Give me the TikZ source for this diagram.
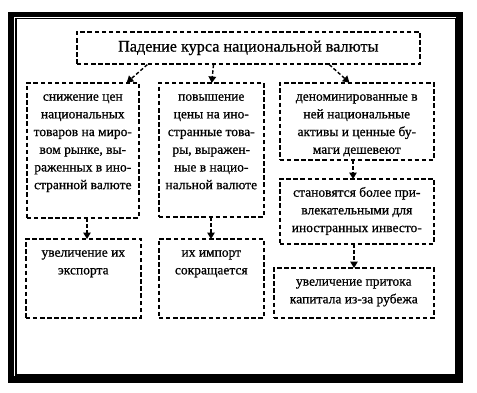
\documentclass[tikz,border=0pt]{standalone}
\usepackage{fontspec}
\setmainfont[FakeBold=0.7]{Liberation Serif}
\usetikzlibrary{arrows.meta,calc}
\newcommand\bxt[3]{\parbox[c][#2][t]{#1}{\centering\fontsize{13.5pt}{17.7pt}\selectfont\vspace*{5.5pt}\strut #3\par}}
\tikzset{
  dbox/.style={draw, line width=1.6pt, dash pattern=on 4.5pt off 2.6pt, inner sep=0pt, anchor=north west},
  arr/.style={line width=1.4pt, dash pattern=on 3.5pt off 2.2pt, -{Triangle[length=6.5pt,width=7.5pt]}, shorten >=-1pt}
}
\begin{document}
\begin{tikzpicture}[x=1pt,y=-1pt]
\useasboundingbox (0,0) rectangle (477,392);
% frame
\fill[black] (8,12) rectangle (463,383);
\fill[white] (13.5,16.5) rectangle (456,375.5);
\draw[line width=1.3pt] (16,18.5) rectangle (455.5,375);
% title
\node[dbox, minimum width=343pt, minimum height=32pt, anchor=north west] (t) at (76,31)
  {\fontsize{16.2pt}{19pt}\selectfont Падение курса национальной валюты};
% boxes
\node[dbox] (b1) at (26,82) {\bxt{112pt}{135pt}{снижение цен\\ национальных\\ товаров на миро-\\ вом рынке, вы-\\ раженных в ино-\\ странной валюте}};
\node[dbox] (b2) at (158,82) {\bxt{105pt}{134pt}{повышение\\ цены на ино-\\ странные това-\\ ры, выражен-\\ ные в нацио-\\ нальной валюте}};
\node[dbox] (b3) at (279,82) {\bxt{154pt}{77pt}{деноминированные в\\ ней национальные\\ активы и ценные бу-\\ маги дешевеют}};
\node[dbox] (b4) at (279,178) {\bxt{154pt}{65pt}{становятся более при-\\ влекательными для\\ иностранных инвесто-}};
\node[dbox] (b5) at (273,267) {\bxt{160pt}{50pt}{увеличение притока\\ капитала из-за рубежа}};
\node[dbox] (b6) at (25,238) {\bxt{115pt}{79pt}{увеличение их\\ экспорта}};
\node[dbox] (b7) at (158,238) {\bxt{105pt}{79pt}{их импорт\\ сокращается}};
% arrows from title
\draw[arr] ($(t.south west)!0.207!(t.south east)$) -- ($(b1.north west)!0.893!(b1.north east)$);
\draw[arr] ($(t.south west)!0.399!(t.south east)$) -- ($(b2.north west)!0.505!(b2.north east)$);
\draw[arr] ($(t.south west)!0.735!(t.south east)$) -- ($(b3.north west)!0.448!(b3.north east)$);
% vertical arrows
\path (b1.south west) ++(61,0) coordinate (a1);
\path (b2.south west) ++(53,0) coordinate (a2);
\path (b3.south west) ++(74,0) coordinate (a3);
\path (b4.south west) ++(75,0) coordinate (a4);
\draw[arr] (a1) -- (a1 |- b6.north);
\draw[arr] (a2) -- (a2 |- b7.north);
\draw[arr] (a3) -- (a3 |- b4.north);
\draw[arr] (a4) -- (a4 |- b5.north);
\end{tikzpicture}
\end{document}
